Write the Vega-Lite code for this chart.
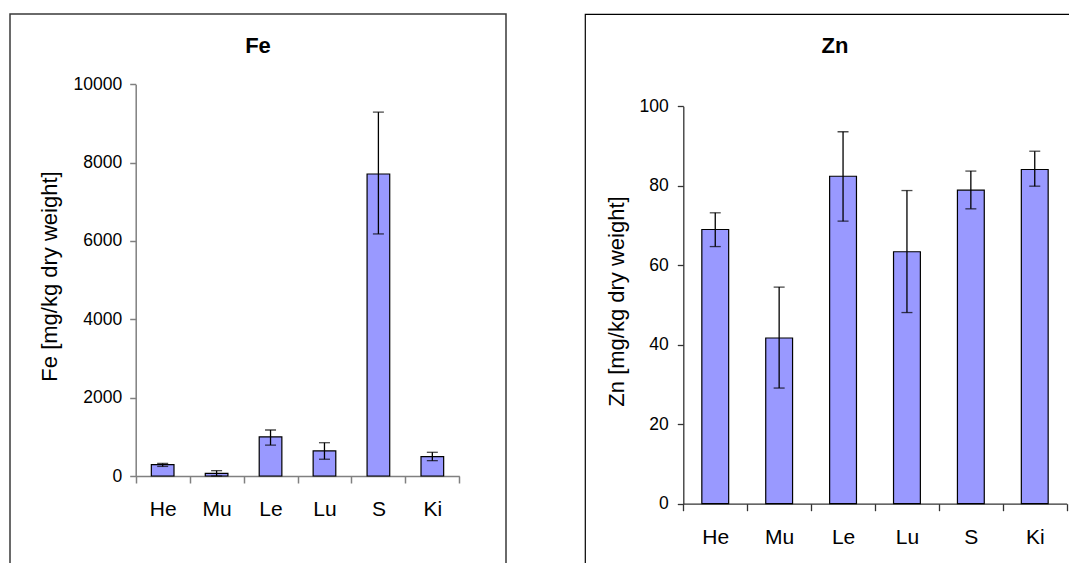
{
  "$schema": "https://vega.github.io/schema/vega-lite/v6.json",
  "padding": {"left": 9, "top": 13, "right": 0, "bottom": 0},
  "background": "white",
  "spacing": 77,
  "datasets": {
    "fe": [
      {"tissue": "He", "v": 290, "lo": 245, "hi": 322},
      {"tissue": "Mu", "v": 68, "lo": 0, "hi": 136},
      {"tissue": "Le", "v": 1000, "lo": 790, "hi": 1175},
      {"tissue": "Lu", "v": 640, "lo": 428, "hi": 850},
      {"tissue": "S", "v": 7710, "lo": 6180, "hi": 9290},
      {"tissue": "Ki", "v": 495, "lo": 392, "hi": 605}
    ],
    "zn": [
      {"tissue": "He", "v": 69.0, "lo": 64.7, "hi": 73.2},
      {"tissue": "Mu", "v": 41.7, "lo": 29.1, "hi": 54.5},
      {"tissue": "Le", "v": 82.4, "lo": 71.1, "hi": 93.6},
      {"tissue": "Lu", "v": 63.4, "lo": 48.1, "hi": 78.8},
      {"tissue": "S", "v": 78.9, "lo": 74.2, "hi": 83.7},
      {"tissue": "Ki", "v": 84.1, "lo": 79.9, "hi": 88.7}
    ]
  },
  "config": {
    "font": "Liberation Sans",
    "view": {"stroke": "#000", "strokeWidth": 1},
    "axis": {"grid": false, "labelColor": "#000", "titleColor": "#000", "labelFont": "Liberation Sans", "titleFont": "Liberation Sans"},
    "title": {"font": "Liberation Sans", "color": "#000"}
  },
  "hconcat": [
    {
      "width": 496,
      "height": 560,
      "data": {"name": "fe"},
      "title": {"text": "Fe", "fontSize": 22, "fontWeight": "bold", "offset": -44, "anchor": "middle"},
      "view": {"stroke": "#3a3a3a", "strokeWidth": 1.5},
      "encoding": {
        "x": {
          "field": "tissue", "type": "nominal", "sort": null,
          "scale": {"type": "band", "paddingInner": 0, "paddingOuter": 0, "range": [125.7, 449.3]},
          "axis": {"title": null, "offset": -98, "labelAngle": 0, "labelFontSize": 21, "labelPadding": 15, "tickSize": 7, "tickBand": "extent", "domainColor": "#808080", "tickColor": "#808080", "domainWidth": 1.5, "tickWidth": 1.5}
        }
      },
      "layer": [
        {
          "mark": {"type": "bar", "fill": "#9999ff", "stroke": "#000", "strokeWidth": 1.2, "width": {"band": 0.42}},
          "encoding": {
            "y": {
              "field": "v", "type": "quantitative", "title": "Fe [mg/kg dry weight]",
              "scale": {"domain": [0, 10000], "nice": false, "zero": true, "range": [462, 70.3]},
              "axis": {"values": [0, 2000, 4000, 6000, 8000, 10000], "format": "d", "offset": -125.7, "tickSize": 6, "labelFontSize": 17.5, "labelPadding": 8, "titleFontSize": 22, "titleFontWeight": "normal", "titlePadding": 12, "titleY": 262, "domainColor": "#808080", "tickColor": "#808080", "domainWidth": 1.5, "tickWidth": 1.5}
            }
          }
        },
        {
          "mark": {"type": "rule", "color": "#000", "strokeWidth": 1.3},
          "encoding": {"y": {"field": "lo", "type": "quantitative", "title": "Fe [mg/kg dry weight]"}, "y2": {"field": "hi"}}
        },
        {
          "mark": {"type": "tick", "color": "#000", "thickness": 1.3, "size": 11},
          "encoding": {"y": {"field": "lo", "type": "quantitative", "title": "Fe [mg/kg dry weight]"}}
        },
        {
          "mark": {"type": "tick", "color": "#000", "thickness": 1.3, "size": 11},
          "encoding": {"y": {"field": "hi", "type": "quantitative", "title": "Fe [mg/kg dry weight]"}}
        }
      ]
    },
    {
      "width": 500,
      "height": 560,
      "data": {"name": "zn"},
      "title": {"text": "Zn", "fontSize": 22, "fontWeight": "bold", "offset": -44, "anchor": "middle"},
      "view": {"stroke": "#000", "strokeWidth": 1.2},
      "encoding": {
        "x": {
          "field": "tissue", "type": "nominal", "sort": null,
          "scale": {"type": "band", "paddingInner": 0, "paddingOuter": 0, "range": [98.3, 481.7]},
          "axis": {"title": null, "offset": -70.3, "labelAngle": 0, "labelFontSize": 21, "labelPadding": 15.5, "tickSize": 7, "tickBand": "extent", "domainColor": "#333", "tickColor": "#333", "domainWidth": 1.3, "tickWidth": 1.3}
        }
      },
      "layer": [
        {
          "mark": {"type": "bar", "fill": "#9999ff", "stroke": "#000", "strokeWidth": 1.2, "width": {"band": 0.42}},
          "encoding": {
            "y": {
              "field": "v", "type": "quantitative", "title": "Zn [mg/kg dry weight]",
              "scale": {"domain": [0, 100], "nice": false, "zero": true, "range": [489.7, 92.3]},
              "axis": {"values": [0, 20, 40, 60, 80, 100], "format": "d", "offset": -98.3, "tickSize": 6, "labelFontSize": 17.5, "labelPadding": 9, "titleFontSize": 22, "titleFontWeight": "normal", "titlePadding": 11, "titleY": 287, "domainColor": "#333", "tickColor": "#333", "domainWidth": 1.3, "tickWidth": 1.3}
            }
          }
        },
        {
          "mark": {"type": "rule", "color": "#000", "strokeWidth": 1.3},
          "encoding": {"y": {"field": "lo", "type": "quantitative", "title": "Zn [mg/kg dry weight]"}, "y2": {"field": "hi"}}
        },
        {
          "mark": {"type": "tick", "color": "#000", "thickness": 1.3, "size": 11},
          "encoding": {"y": {"field": "lo", "type": "quantitative", "title": "Zn [mg/kg dry weight]"}}
        },
        {
          "mark": {"type": "tick", "color": "#000", "thickness": 1.3, "size": 11},
          "encoding": {"y": {"field": "hi", "type": "quantitative", "title": "Zn [mg/kg dry weight]"}}
        }
      ]
    }
  ]
}
